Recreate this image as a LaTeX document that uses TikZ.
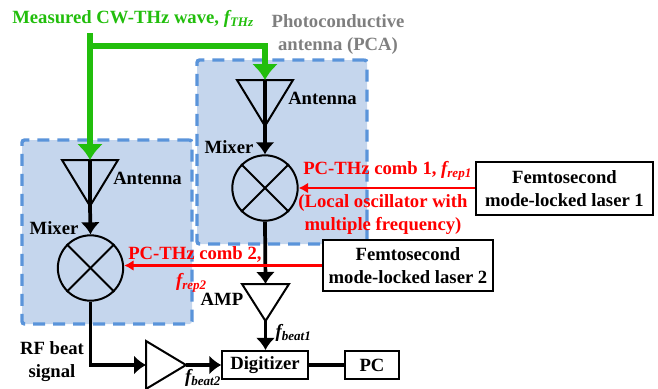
\documentclass[tikz,border=0pt]{standalone}
\usepackage{fontspec}
\setmainfont{Liberation Serif}
\usetikzlibrary{calc,arrows.meta}
\definecolor{pcablue}{HTML}{C5D6ED}
\definecolor{pcadash}{HTML}{5A94DA}
\definecolor{thzgreen}{HTML}{22BE0C}
\definecolor{labelgray}{HTML}{7F7F7F}

\begin{document}
\begin{tikzpicture}
  [x=0.75pt,y=-0.75pt,>={Latex[length=9pt,width=14.5pt]}]

\useasboundingbox (0,0) rectangle (658,389);

% define styles
\tikzstyle{pca} = [fill=pcablue, draw=pcadash, line width=2.6pt, dash pattern=on 9pt off 6pt, rounded corners=2pt];
\tikzstyle{mixer} = [draw, circle, line width=1.5pt, minimum size=49pt, inner sep=0pt];
\tikzstyle{block} = [draw, rectangle, line width=1.6pt, fill=white, inner sep=0pt, align=center, font=\fontsize{14}{17}\selectfont\bfseries];
\tikzstyle{txt} = [inner sep=0pt, align=center, font=\fontsize{14}{17}\selectfont\bfseries];
\tikzstyle{sig} = [line width=2.8pt];
\tikzstyle{thz} = [line width=3.8pt, draw=thzgreen, >={Latex[length=12pt,width=20pt]}];
\tikzstyle{rf} = [line width=1.6pt, draw=red, >={Latex[length=7pt,width=8pt]}];

% define new commands
\newcommand{\triDown}[5]{
  \coordinate (#1top) at (#2,#3);
  \coordinate (#1apex) at (#2,#3+#5);
  \draw [line width=1.5pt, line join=miter] (#2-#4,#3) -- (#2+#4,#3) -- (#1apex) -- cycle;
}

\newcommand{\conCross}[1]{
  \draw [line width=1.5pt] (#1.north east) -- (#1.south west);
  \draw [line width=1.5pt] (#1.north west) -- (#1.south east);
}

% draw dashed areas
\node[pca, minimum width=127.5pt, minimum height=138pt, inner sep=0pt] (pcaA) at (282,152) {};
\node[pca, minimum width=127.5pt, minimum height=138pt, inner sep=0pt] (pcaB) at (107,232) {};

% draw mixers
\node[mixer] (mixA) at (265,188) {};
\node[mixer] (mixB) at (90.5,268) {};
\conCross{mixA}
\conCross{mixB}

% draw antennas and amplifiers
\triDown{antA}{265}{80}{28}{46}
\triDown{antB}{90}{160}{28}{46}
\triDown{ampA}{265.5}{284}{23.5}{37}
\draw [line width=1.5pt, line join=miter] (146,341) -- (186,365) -- (146,389) -- cycle;
\coordinate (ampBin) at (146,365);
\coordinate (ampBout) at (186,365);

% draw blocks
\node[block, minimum width=133pt, minimum height=40pt] (laserA) at (564.5,188.5) {Femtosecond\\mode-locked laser 1};
\node[block, minimum width=128pt, minimum height=38pt] (laserB) at (408,265.5) {Femtosecond\\mode-locked laser 2};
\node[block, minimum width=64pt, minimum height=21pt] (digi) at (265,365) {Digitizer};
\node[block, minimum width=40pt, minimum height=21pt] (pc) at (372,365) {PC};

% draw black lines
\draw [sig] (antAtop) -- (antAapex);
\draw [sig] (antBtop) -- (antBapex);
\draw [sig, ->] (antAapex) -- (mixA.north);
\draw [sig, ->] (antBapex) -- (mixB.north);
\draw [sig, ->] (mixA.south) -- (ampAtop);
\draw [sig, ->] (ampAapex) -- (ampAapex |- digi.north);
\draw [sig, ->] (mixB.south) |- (ampBin);
\draw [sig, ->] (ampBout) -- (digi.west);
\draw [sig] (digi.east) -- (pc.west);

% draw green lines
\coordinate (thzStart) at (90,33);
\coordinate (thzFork) at (90,46);
\draw [thz, ->] (thzStart) -- (antBtop);
\draw [thz, ->] (thzFork) -| (antAtop);

% draw red lines
\draw [rf, ->] (laserA.west |- mixA) -- (mixA.east);
\draw [rf, ->] (laserB.west) -- (mixB.east |- laserB.west);

% draw labels
\node[txt, text=thzgreen, anchor=west] (lblThz) at (12,19) {Measured CW-THz wave, \textit{f\textsubscript{THz}}};
\node[txt, text=labelgray] (lblPca) at (338,34.5) {Photoconductive\\antenna (PCA)};
\node[txt] (lblAntA) at (322.5,98) {Antenna};
\node[txt] (lblAntB) at (147.5,178) {Antenna};
\node[txt] (lblMixA) at (229,147) {Mixer};
\node[txt] (lblMixB) at (54,228) {Mixer};
\node[txt, text=red, anchor=west] (lblComA) at (303,171) {PC-THz comb 1, \textit{f\textsubscript{rep1}}};
\node[txt, text=red] (lblLocal) at (383,214.5) {(Local oscillator with\\multiple frequency)};
\node[txt, text=red, anchor=west] (lblComB) at (128,254) {PC-THz comb 2,};
\node[txt, text=red] (lblRepB) at (191.5,283) {\textit{f\textsubscript{rep2}}};
\node[txt] (lblAmp) at (222,299) {AMP};
\node[txt] (lblBeatA) at (293.5,333) {\textit{f\textsubscript{beat1}}};
\node[txt] (lblBeatB) at (203,378) {\textit{f\textsubscript{beat2}}};
\node[txt] (lblRf) at (52,361.5) {RF beat\\signal};

\end{tikzpicture}
\end{document}
